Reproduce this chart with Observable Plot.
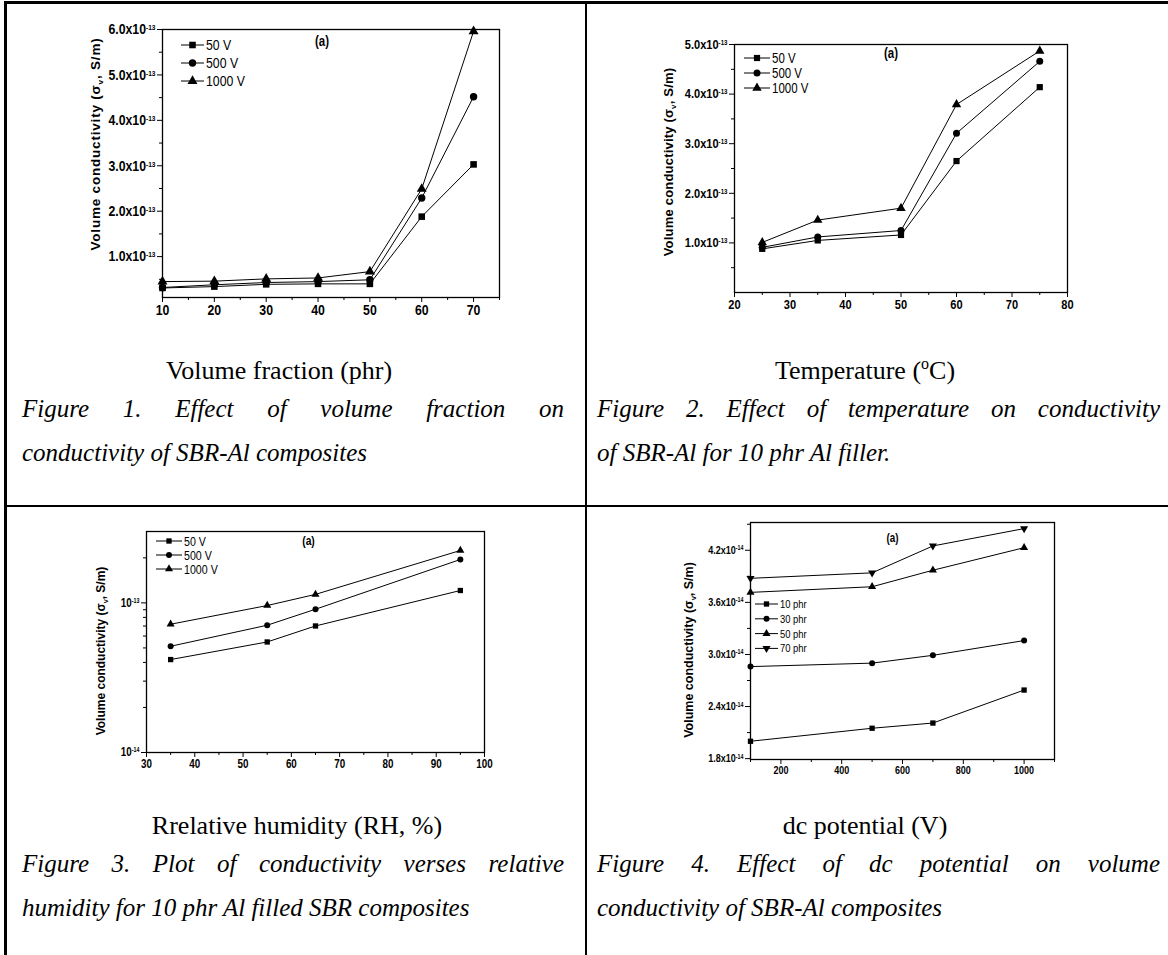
<!DOCTYPE html>
<html><head><meta charset="utf-8">
<script src="https://cdn.jsdelivr.net/npm/d3@7"></script>
<script src="https://cdn.jsdelivr.net/npm/@observablehq/plot@0.6"></script>
<style>
html,body{margin:0;padding:0;background:#fff;}
body{width:1168px;height:955px;overflow:hidden;position:relative;font-family:"Liberation Serif","Times New Roman",serif;color:#000;}
.ln{position:absolute;background:#000;}
.xt{position:absolute;font-size:26px;line-height:30px;white-space:nowrap;text-align:center;}
.xt sup{font-size:16px;line-height:0;vertical-align:baseline;position:relative;top:-10px;}
.cap{position:absolute;font-style:italic;font-size:25px;line-height:30px;white-space:nowrap;}
.just{text-align:justify;text-align-last:justify;white-space:normal;}
</style></head><body>
<div class="ln" style="left:4px;top:1px;width:1164px;height:3px"></div>
<div class="ln" style="left:4px;top:1px;width:3px;height:954px"></div>
<div class="ln" style="left:585px;top:1px;width:2px;height:954px"></div>
<div class="ln" style="left:4px;top:505px;width:1164px;height:2px"></div>

<div class="xt" style="left:60px;width:438px;top:356px">Volume fraction (phr)</div>
<div class="cap just" style="left:22px;width:542px;top:394px">Figure 1. Effect of volume fraction on</div>
<div class="cap" style="left:22px;top:438px">conductivity of SBR-Al composites</div>

<div class="xt" style="left:665px;width:400px;top:356px">Temperature (<sup>o</sup>C)</div>
<div class="cap just" style="left:597px;width:563px;top:394px">Figure 2. Effect of temperature on conductivity</div>
<div class="cap" style="left:597px;top:438px">of SBR-Al for 10 phr Al filler.</div>

<div class="xt" style="left:97px;width:400px;top:811px">Rrelative humidity (RH, %)</div>
<div class="cap just" style="left:22px;width:542px;top:849px">Figure 3. Plot of conductivity verses relative</div>
<div class="cap" style="left:22px;top:893px">humidity for 10 phr Al filled SBR composites</div>

<div class="xt" style="left:665px;width:400px;top:811px">dc potential (V)</div>
<div class="cap just" style="left:597px;width:563px;top:849px">Figure 4. Effect of dc potential on volume</div>
<div class="cap" style="left:597px;top:893px">conductivity of SBR-Al composites</div>

<script>
// ---------------- DATA ----------------
// Figure 1: volume fraction (phr) vs volume conductivity (S/m)
const fig1Fraction = [10, 20, 30, 40, 50, 60, 70];
const fig1V50   = [3.1e-14, 3.4e-14, 3.9e-14, 4.0e-14, 4.0e-14, 1.88e-13, 3.03e-13];
const fig1V500  = [3.2e-14, 3.8e-14, 4.3e-14, 4.5e-14, 4.9e-14, 2.29e-13, 4.52e-13];
const fig1V1000 = [4.5e-14, 4.6e-14, 5.1e-14, 5.3e-14, 6.7e-14, 2.49e-13, 5.96e-13];
const fig1XTicks = [10, 20, 30, 40, 50, 60, 70];
const fig1YTicks = [1e-13, 2e-13, 3e-13, 4e-13, 5e-13, 6e-13];

// Figure 2: temperature (°C)
const fig2Temp = [25, 35, 50, 60, 75];
const fig2V50   = [0.88e-13, 1.05e-13, 1.16e-13, 2.65e-13, 4.14e-13];
const fig2V500  = [0.91e-13, 1.12e-13, 1.25e-13, 3.21e-13, 4.66e-13];
const fig2V1000 = [1.01e-13, 1.46e-13, 1.70e-13, 3.79e-13, 4.87e-13];
const fig2XTicks = [20, 30, 40, 50, 60, 70, 80];
const fig2YTicks = [1e-13, 2e-13, 3e-13, 4e-13, 5e-13];

// Figure 3: relative humidity (%), log scale
const fig3RH = [35, 55, 65, 95];
const fig3V50   = [4.18e-14, 5.48e-14, 7.01e-14, 1.21e-13];
const fig3V500  = [5.13e-14, 7.09e-14, 9.07e-14, 1.95e-13];
const fig3V1000 = [7.2e-14, 9.6e-14, 1.14e-13, 2.24e-13];
const fig3XTicks = [30, 40, 50, 60, 70, 80, 90, 100];
const fig3YTicks = [1e-14, 1e-13];

// Figure 4: dc potential (V)
const fig4Volt = [100, 500, 700, 1000];
const fig4P10 = [2.00e-14, 2.15e-14, 2.21e-14, 2.59e-14];
const fig4P30 = [2.86e-14, 2.90e-14, 2.99e-14, 3.16e-14];
const fig4P50 = [3.715e-14, 3.78e-14, 3.97e-14, 4.23e-14];
const fig4P70 = [3.877e-14, 3.94e-14, 4.25e-14, 4.45e-14];
const fig4XTicks = [200, 400, 600, 800, 1000];
const fig4YTicks = [1.8e-14, 2.4e-14, 3.0e-14, 3.6e-14, 4.2e-14];

const voltLabels = ["50 V", "500 V", "1000 V"];
const phrLabels = ["10 phr", "30 phr", "50 phr", "70 phr"];

// ---------------- DRAWING ----------------
const NS = "http://www.w3.org/2000/svg";
const SANS = '"Liberation Sans",Arial,sans-serif';
const NARROW_FACTOR = 0.82; // condensed look of the original tick/legend font
const triangleDown = {draw(ctx, size) {
  const s3 = Math.sqrt(3), y = -Math.sqrt(size / (s3 * 3));
  ctx.moveTo(0, -y * 2); ctx.lineTo(-s3 * y, y); ctx.lineTo(s3 * y, y); ctx.closePath();
}};
const SYMS = [d3.symbolSquare, d3.symbolCircle, d3.symbolTriangle, triangleDown];

const sciFmt = (exp) => d => (d / Math.pow(10, exp)).toFixed(1) + "x10^" + exp;
const logFmt = d => "10^" + Math.round(Math.log10(d));

function minorBetween(ticks, extra) { // midpoints between major ticks (axis decoration)
  const out = [];
  for (let i = 0; i < ticks.length - 1; i++) out.push((ticks[i] + ticks[i + 1]) / 2);
  return out.concat(extra || []);
}

function makeChart(c) {
  const marks = [
    Plot.axisX({ticks: c.xTicks, tickSize: 5, tickPadding: 2, tickFormat: d => String(d), label: null,
      fontSize: c.tickSize, fontWeight: "bold", fontFamily: SANS}),
    Plot.axisX({ticks: c.xMinor, tickSize: 3, tickFormat: () => "", label: null}),
    Plot.axisY({ticks: c.yTicks, tickSize: 5, tickPadding: 2, tickFormat: c.yFormat, label: null,
      fontSize: c.tickSize, fontWeight: "bold", fontFamily: SANS}),
    Plot.axisY({ticks: c.yMinor, tickSize: 3, tickFormat: () => "", label: null}),
    Plot.frame({stroke: "black", strokeWidth: 1.3})
  ];
  c.series.forEach((vals, k) => {
    const data = c.x.map((x, i) => ({x, y: vals[i]}));
    marks.push(Plot.line(data, {x: "x", y: "y", stroke: "black", strokeWidth: 1}));
    marks.push(Plot.dot(data, {x: "x", y: "y", symbol: SYMS[k], fill: "black", stroke: "none", r: c.r}));
  });
  marks.push(Plot.text(["(a)"], {frameAnchor: "top", dx: c.aDx, dy: c.aDy, fontWeight: "bold",
    fontSize: c.aSize, fontFamily: SANS}));
  const svg = Plot.plot({
    width: c.width, height: c.height,
    marginLeft: c.ml, marginRight: c.mr, marginTop: c.mt, marginBottom: c.mb,
    x: {domain: c.xDomain},
    y: {domain: c.yDomain, type: c.yType || "linear"},
    style: {background: "transparent", color: "black", fontFamily: SANS, overflow: "visible"},
    marks
  });
  // superscripts in tick labels
  svg.querySelectorAll("text").forEach(t => {
    const s = t.textContent;
    if (s.includes("^")) {
      const [base, sup] = s.split("^");
      while (t.firstChild) t.removeChild(t.firstChild);
      const a = document.createElementNS(NS, "tspan"); a.textContent = base; t.appendChild(a);
      const b = document.createElementNS(NS, "tspan"); b.textContent = sup;
      b.setAttribute("font-size", c.supSize); b.setAttribute("dy", -c.supShift); t.appendChild(b);
    }
  });
  const g = d3.select(svg);
  // legend
  const L = c.legend;
  c.labels.forEach((name, k) => {
    const y = L.y0 + k * L.dy;
    g.append("line").attr("x1", L.x0).attr("x2", L.x1).attr("y1", y).attr("y2", y)
      .attr("stroke", "black").attr("stroke-width", 1);
    g.append("path").attr("d", d3.symbol(SYMS[k], Math.PI * c.r * c.r)())
      .attr("transform", `translate(${(L.x0 + L.x1) / 2},${y})`).attr("fill", "black");
    g.append("text").attr("transform", `translate(${L.x1 + 2},${y})`).attr("dy", "0.35em")
      .attr("text-anchor", "start").attr("font-weight", "normal")
      .attr("font-family", SANS).attr("font-size", L.size).attr("fill", "black").text(name);
  });
  // condense tick, legend and panel-letter text horizontally (narrow face of the original)
  svg.querySelectorAll("text").forEach(t => {
    if (!t.textContent) return;
    const ax = parseFloat(t.getAttribute("x") || "0") || 0;
    const tr = t.getAttribute("transform") || "";
    t.setAttribute("transform",
      `${tr} translate(${ax},0) scale(${NARROW_FACTOR},1) translate(${-ax},0)`.trim());
  });
  // y-axis title (regular width, letter-spaced)
  const lab = g.append("text").attr("transform", `translate(${c.yLab[0]},${c.yLab[1]}) rotate(-90)`)
    .attr("text-anchor", "middle").attr("font-family", SANS).attr("font-weight", "bold")
    .attr("font-size", c.labSize).attr("letter-spacing", c.labSpacing).attr("fill", "black");
  lab.append("tspan").text("Volume conductivity (σ");
  lab.append("tspan").text("v").attr("font-size", c.labSize * 0.6).attr("dy", 3);
  lab.append("tspan").text(", S/m)").attr("dy", -3);
  svg.style.position = "absolute";
  svg.style.left = c.left + "px";
  svg.style.top = c.top + "px";
  document.body.appendChild(svg);
}

makeChart({
  left: 60, top: 0, width: 460, height: 330, ml: 102, mr: 21, mt: 29, mb: 33,
  x: fig1Fraction, series: [fig1V50, fig1V500, fig1V1000], labels: voltLabels,
  xDomain: [10, 75], yDomain: [1.0e-14, 6.0e-13],
  xTicks: fig1XTicks, xMinor: minorBetween(fig1XTicks, [75]),
  yTicks: fig1YTicks, yMinor: minorBetween([0, ...fig1YTicks]),
  yFormat: sciFmt(-13), tickSize: 15, supSize: 8, supShift: 4,
  r: 3.7, aDx: -9, aDy: 7, aSize: 14,
  yLab: [40, 144], labSize: 13.5, labSpacing: 0.8,
  legend: {x0: 121, x1: 144, y0: 45, dy: 18, size: 15}
});

makeChart({
  left: 640, top: 0, width: 460, height: 330, ml: 94, mr: 33, mt: 44, mb: 38,
  x: fig2Temp, series: [fig2V50, fig2V500, fig2V1000], labels: voltLabels,
  xDomain: [20, 80], yDomain: [0, 5.0e-13],
  xTicks: fig2XTicks, xMinor: minorBetween(fig2XTicks),
  yTicks: fig2YTicks, yMinor: minorBetween([0, ...fig2YTicks]),
  yFormat: sciFmt(-13), tickSize: 13.5, supSize: 7.5, supShift: 4,
  r: 3.5, aDx: -10, aDy: 4, aSize: 14,
  yLab: [33, 162], labSize: 13, labSpacing: 0.2,
  legend: {x0: 104, x1: 130, y0: 58, dy: 15, size: 14}
});

makeChart({
  left: 60, top: 510, width: 460, height: 280, ml: 86, mr: 36, mt: 21, mb: 38,
  x: fig3RH, series: [fig3V50, fig3V500, fig3V1000], labels: voltLabels,
  xDomain: [30, 100], yDomain: [1e-14, 3e-13], yType: "log",
  xTicks: fig3XTicks, xMinor: minorBetween(fig3XTicks),
  yTicks: fig3YTicks, yMinor: [2e-14, 3e-14, 4e-14, 5e-14, 6e-14, 7e-14, 8e-14, 9e-14, 2e-13],
  yFormat: logFmt, tickSize: 12, supSize: 6.5, supShift: 4,
  r: 3, aDx: -7, aDy: 5, aSize: 12.5,
  yLab: [45, 141], labSize: 12, labSpacing: 0,
  legend: {x0: 96, x1: 122, y0: 31, dy: 14, size: 13}
});

makeChart({
  left: 640, top: 510, width: 460, height: 280, ml: 110, mr: 46, mt: 12, mb: 31,
  x: fig4Volt, series: [fig4P10, fig4P30, fig4P50, fig4P70], labels: phrLabels,
  xDomain: [100, 1100], yDomain: [1.79e-14, 4.52e-14],
  xTicks: fig4XTicks, xMinor: minorBetween([0, ...fig4XTicks, 1200]).filter(v => v >= 100 && v <= 1100),
  yTicks: fig4YTicks, yMinor: minorBetween([...fig4YTicks, 4.8e-14]).filter(v => v < 4.52e-14),
  yFormat: sciFmt(-14), tickSize: 11, supSize: 6.5, supShift: 3.5,
  r: 3, aDx: -10, aDy: 11, aSize: 12,
  yLab: [53, 140], labSize: 12.5, labSpacing: 0,
  legend: {x0: 115, x1: 138, y0: 94, dy: 14.8, size: 11.5}
});
</script>
</body></html>
